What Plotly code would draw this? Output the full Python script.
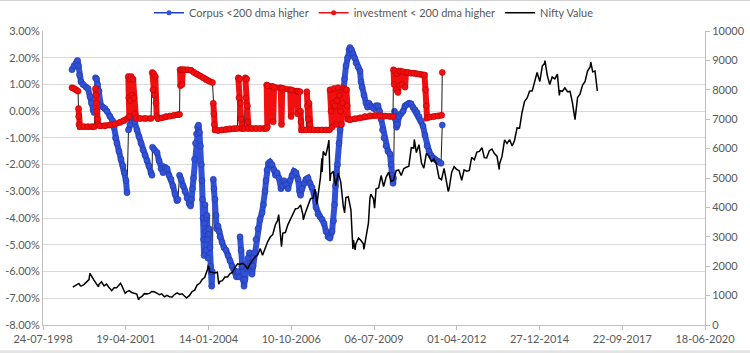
import plotly.graph_objects as go
import pandas as pd

# ---------------- data ----------------
# x values are Excel serial day numbers; None in a value list = a jump (drawn only as a thin connector)
corpus_serial = [36350, 36375, 36399, 36417, 36429, 36441, 36459, 36483, 36520, 36544, 36568, 36586, 36604, 36616,
                 36625,
                 36634, 36647, 36659, 36677, 36701, 36725, 36749, 36773, 36810, 36840, 36858, 36876, 36894, 36918,
                 36943, 36967, 36985, 37003, 37015,
                 37024,
                 37033, 37051, 37076, 37094, 37112, 37136, 37160, 37184, 37208, 37233, 37257, 37281, 37305, 37317,
                 37320,
                 37323, 37347, 37378, 37402, 37426, 37450, 37474, 37499, 37523, 37547, 37571, 37595, 37619, 37631,
                 37640,
                 37650, 37668, 37692, 37716, 37740, 37764, 37783, 37795, 37807, 37819, 37831, 37843, 37855, 37867,
                 37879, 37891, 37903, 37915, 37921, 37928, 37934, 37940, 37946, 37952, 37958, 37964, 37970, 37976,
                 37982, 37988, 37994, 38000, 38006, 38018, 38024, 38030, 38039, 38046,
                 38052,
                 38058, 38066, 38079, 38091, 38099, 38115, 38127, 38139, 38163, 38187, 38212, 38236, 38260, 38284,
                 38308, 38338, 38357, 38369,
                 38375,
                 38381, 38393, 38405, 38417, 38429, 38441, 38459, 38477, 38496, 38508,
                 38520, 38526, 38538, 38556, 38574, 38598, 38622, 38647, 38665, 38683, 38695, 38707, 38725, 38743,
                 38767, 38792, 38810, 38828, 38852, 38876, 38894, 38912, 38937, 38961, 38985, 39009, 39033, 39057,
                 39082, 39100, 39112, 39130, 39154, 39178, 39202, 39227, 39251, 39275, 39299, 39323, 39347, 39372,
                 39396, 39420, 39444, 39468, 39493, 39511, 39523, 39535, 39547, 39559, 39577, 39589, 39607, 39626,
                 39644, 39662, 39680, 39698, 39710, 39728, 39746, 39764, 39783, 39807, 39831, 39843, 39855, 39879,
                 39903, 39922, 39940, 39958, 39976, 40000, 40024, 40048, 40067, 40085, 40103, 40121, 40145, 40169,
                 40193, 40206, 40218, 40230, 40236,
                 40242,
                 40248, 40260, 40272, 40284, 40302, 40326, 40351, 40375, 40399, 40423, 40447, 40471, 40496, 40520,
                 40544, 40568, 40592, 40616, 40641, 40665, 40689, 40713, 40737, 40761, 40786, 40810,
                 40818,
                 40825]
corpus_pct = [1.55, 1.7, 1.8, 1.9, 1.7, 1.35, 1.1, 1.0, 0.9, 0.85, 0.55, 0.3, 0.05, -0.05,
              None,
              1.25, 1.2, 1.0, 0.75, 0.2, 0.15, 0.1, 0.0, -0.2, -0.35, -0.6, -1.0, -1.2, -1.5,
              -1.8, -2.05, -2.3, -2.6, -3.05,
              None,
              -0.7, -0.5, -0.35, -0.27, -0.4, -0.7, -0.95, -1.2, -1.45, -1.65, -1.85, -2.05, -2.3, -2.4,
              None,
              -1.35, -1.45, -1.55, -1.85, -2.15, -2.3, -2.1, -2.15, -2.4, -2.55, -2.8, -3.1, -3.35, -3.3,
              None,
              -2.4, -2.55, -2.8, -3.0, -3.25, -3.45, -3.55, -3.3, -2.9, -2.5, -1.8, -1.2, -0.85, -0.6,
              -0.52, -0.8, -1.3, -2.0, -2.6, -3.3, -4.0, -4.8, -5.4, -4.2, -3.5, -4.5, -5.2, -4.0,
              -3.9, -4.8, -5.5, -4.6, -4.4, -5.1, -5.8, -6.0, -6.55, -6.0,
              None,
              -2.55, -2.9, -3.3, -3.9, -4.4, -4.3, -4.5, -4.7, -4.9, -5.1, -5.2, -5.4, -5.6, -5.8,
              -5.95, -6.2, -6.0, -6.2,
              None,
              -4.7, -5.2, -5.8, -6.3, -6.55, -6.3, -5.9, -5.5, -5.3, -5.7,
              -5.8, -6.1, -5.8, -5.3, -4.8, -4.4, -4.05, -3.8, -3.5, -3.0, -2.6, -2.2, -1.95, -1.9,
              -2.0, -2.2, -2.4, -2.3, -2.5, -2.9, -2.8, -2.6, -2.75, -2.9, -2.6, -2.4, -2.25, -2.3,
              -2.55, -3.0, -3.15, -2.9, -2.7, -2.55, -2.5, -2.7, -2.85, -3.1, -3.6, -3.85, -3.95, -4.05,
              -4.2, -4.5, -4.7, -4.75, -4.5, -4.1, -3.5, -2.8, -2.3, -2.0, -1.2, -0.7, 0.0, 0.6,
              1.2, 1.7, 2.0, 2.3, 2.38, 2.3, 2.15, 2.0, 1.8, 1.65, 1.5, 1.1, 0.9, 0.6,
              0.3, 0.15, 0.3, 0.2, 0.15, 0.1, 0.2, 0.2, 0.0, -0.3, -0.7, -1.0, -1.3, -1.5,
              -1.6, -2.0, -2.4, -2.7, -2.5,
              None,
              0.0, -0.3, -0.6, -0.5, -0.2, -0.1, 0.0, 0.2, 0.25, 0.3, 0.28, 0.15, 0.05, -0.05,
              -0.2, -0.35, -0.55, -0.9, -1.3, -1.5, -1.65, -1.75, -1.8, -1.85, -1.9, -1.95,
              None,
              -0.52]

invest_serial = [36350, 36375, 36399, 36423,
                 36426,
                 36429, 36431, 36435, 36447, 36495, 36544, 36592, 36622,
                 36628,
                 36634, 36640, 36647, 36653, 36659, 36665, 36689, 36749, 36810, 36870, 36930, 36979, 37021,
                 37026,
                 37031, 37037, 37043, 37049, 37057, 37066, 37076, 37088, 37100, 37112, 37124, 37172, 37233, 37305,
                 37313,
                 37321, 37329, 37338, 37347, 37357, 37366, 37374, 37390, 37438, 37486, 37535, 37583, 37631, 37650,
                 37653,
                 37656, 37662, 37670, 37680, 37689, 37716, 37752, 37789, 37825, 37861, 37897, 37934, 37970, 38006,
                 38048,
                 38053,
                 38058, 38064, 38070, 38079, 38115, 38163, 38212, 38260, 38308, 38350,
                 38355,
                 38360, 38369, 38377, 38387, 38395, 38405, 38435,
                 38440,
                 38445, 38453, 38462, 38470, 38477, 38483, 38526, 38574, 38622, 38671, 38699,
                 38701,
                 38703, 38711, 38719, 38773, 38782, 38792, 38874, 38882, 38891, 38988, 38997, 39005, 39067, 39075,
                 39084, 39106,
                 39109,
                 39112, 39118, 39124, 39154, 39182,
                 39185,
                 39188, 39196, 39205, 39215, 39224, 39233, 39275, 39323, 39372, 39420, 39462,
                 39465,
                 39468, 39480, 39493, 39505, 39517, 39529, 39541, 39553, 39565, 39583, 39595, 39607, 39619, 39631,
                 39650, 39668, 39677, 39686, 39710, 39770, 39831, 39891, 39952, 40012, 40073, 40133, 40193, 40230,
                 40233,
                 40236, 40244, 40254, 40266, 40278, 40290, 40302, 40320, 40338, 40351, 40375, 40387, 40411, 40447,
                 40483, 40520, 40556, 40592, 40610, 40622, 40632, 40641, 40677, 40725, 40774, 40818,
                 40822,
                 40825]
invest_pct = [0.88, 0.85, 0.8, 0.75,
              None,
              0.1, -0.2, -0.5, -0.58, -0.58, -0.58, -0.58, -0.58,
              None,
              0.85, 0.6, 0.3, 0.0, -0.3, -0.5, -0.55, -0.55, -0.52, -0.48, -0.42, -0.35, -0.27,
              None,
              1.3, 0.5, -0.2, 1.2, 0.4, 1.3, 0.6, 1.2, 0.5, -0.1, -0.27, -0.27, -0.27, -0.27,
              None,
              1.45, 0.8, 1.4, 0.6, 1.3, 0.3, -0.2, -0.28, -0.25, -0.2, -0.18, -0.15, -0.13, -0.12,
              None,
              1.55, 0.95, 1.55, 1.0, 1.55, 1.55, 1.55, 1.53, 1.45, 1.38, 1.32, 1.25, 1.18, 1.12,
              1.07,
              None,
              0.3, -0.1, -0.5, -0.7, -0.72, -0.7, -0.68, -0.66, -0.65, -0.65,
              None,
              1.25, 0.5, 1.2, 0.3, -0.3, -0.65, -0.65,
              None,
              1.25, 0.5, 1.2, 0.2, -0.4, -0.65, -0.65, -0.65, -0.65, -0.65, -0.65,
              None,
              0.98, -0.6, 0.95, 0.92, -0.4, 0.9, 0.87, -0.5, 0.86, 0.8, -0.2, 0.79, 0.75, -0.1,
              0.74, 0.73,
              None,
              0.0, -0.4, -0.7, -0.7, -0.7,
              None,
              0.73, 0.2, -0.3, 0.3, -0.5, -0.7, -0.7, -0.7, -0.7, -0.7, -0.7,
              None,
              0.8, 0.0, -0.6, 0.3, 0.85, 0.2, -0.5, 0.4, 0.88, 0.6, 0.0, -0.5, 0.3, 0.85,
              0.82, 0.8, 0.2, -0.3, -0.32, -0.28, -0.25, -0.2, -0.17, -0.16, -0.17, -0.18, -0.2, -0.2,
              None,
              1.55, 1.0, 1.5, 0.8, 1.4, 0.7, 1.5, 1.5, 1.0, 1.48, 0.9, 1.45, 1.45, 1.42,
              1.42, 1.4, 1.38, 1.36, 1.35, 0.8, 0.2, -0.25, -0.22, -0.2, -0.18, -0.15,
              None,
              1.45]

nifty_dates = ['1999-07-19', '1999-07-30', '1999-08-31', '1999-09-30', '1999-10-20', '1999-10-29', '1999-11-30',
               '1999-12-31', '2000-01-31', '2000-02-11', '2000-02-29', '2000-03-31', '2000-04-28', '2000-05-24',
               '2000-05-31', '2000-06-30', '2000-07-31', '2000-08-31', '2000-09-29', '2000-10-31', '2000-11-30',
               '2000-12-29', '2001-01-31', '2001-02-15', '2001-02-28', '2001-03-30', '2001-04-12', '2001-04-30',
               '2001-05-31', '2001-06-29', '2001-07-31', '2001-08-31', '2001-09-21', '2001-09-28', '2001-10-31',
               '2001-11-30', '2001-12-31', '2002-01-31', '2002-02-28', '2002-03-28', '2002-04-30', '2002-05-31',
               '2002-06-28', '2002-07-31', '2002-08-30', '2002-09-30', '2002-10-31', '2002-11-29', '2002-12-31',
               '2003-01-31', '2003-02-28', '2003-03-31', '2003-04-25', '2003-04-30', '2003-05-30', '2003-06-30',
               '2003-07-31', '2003-08-29', '2003-09-30', '2003-10-31', '2003-11-28', '2003-12-31', '2004-01-14',
               '2004-01-30', '2004-02-27', '2004-03-31', '2004-04-30', '2004-05-17', '2004-05-31', '2004-06-30',
               '2004-07-30', '2004-08-31', '2004-09-30', '2004-10-29', '2004-11-30', '2004-12-31', '2005-01-31',
               '2005-02-28', '2005-03-31', '2005-04-29', '2005-05-31', '2005-06-30', '2005-07-29', '2005-08-31',
               '2005-09-30', '2005-10-28', '2005-11-30', '2005-12-30', '2006-01-31', '2006-02-28', '2006-03-31',
               '2006-04-28', '2006-05-11', '2006-05-31', '2006-06-14', '2006-06-30', '2006-07-31', '2006-08-31',
               '2006-09-29', '2006-10-31', '2006-11-30', '2006-12-29', '2007-01-31', '2007-02-28', '2007-03-05',
               '2007-03-30', '2007-04-30', '2007-05-31', '2007-06-29', '2007-07-24', '2007-08-16', '2007-08-31',
               '2007-09-28', '2007-10-15', '2007-10-18', '2007-10-31', '2007-11-30', '2007-12-31', '2008-01-08',
               '2008-01-22', '2008-01-31', '2008-02-29', '2008-03-31', '2008-04-30', '2008-05-30', '2008-06-30',
               '2008-07-16', '2008-07-31', '2008-08-29', '2008-09-30', '2008-10-24', '2008-10-31', '2008-11-20',
               '2008-11-28', '2008-12-31', '2009-01-30', '2009-02-27', '2009-03-06', '2009-03-31', '2009-04-30',
               '2009-05-18', '2009-05-29', '2009-06-30', '2009-07-13', '2009-07-31', '2009-08-31', '2009-09-30',
               '2009-10-30', '2009-11-30', '2009-12-31', '2010-01-29', '2010-02-26', '2010-03-31', '2010-04-30',
               '2010-05-31', '2010-06-30', '2010-07-30', '2010-08-31', '2010-09-30', '2010-10-29', '2010-11-05',
               '2010-11-30', '2010-12-31', '2011-01-31', '2011-02-28', '2011-03-31', '2011-04-29', '2011-05-31',
               '2011-06-30', '2011-07-29', '2011-08-31', '2011-09-30', '2011-10-31', '2011-11-30', '2011-12-20',
               '2011-12-30', '2012-01-31', '2012-02-29', '2012-03-30', '2012-04-30', '2012-05-31', '2012-06-29',
               '2012-07-31', '2012-08-31', '2012-09-28', '2012-10-31', '2012-11-30', '2012-12-31', '2013-01-31',
               '2013-02-28', '2013-03-28', '2013-04-30', '2013-05-31', '2013-06-28', '2013-07-31', '2013-08-28',
               '2013-08-30', '2013-09-30', '2013-10-31', '2013-11-29', '2013-12-31', '2014-01-31', '2014-02-28',
               '2014-03-31', '2014-04-30', '2014-05-30', '2014-06-30', '2014-07-31', '2014-08-29', '2014-09-30',
               '2014-10-31', '2014-11-28', '2014-12-31', '2015-01-30', '2015-02-27', '2015-03-03', '2015-03-31',
               '2015-04-30', '2015-05-29', '2015-06-30', '2015-07-31', '2015-08-24', '2015-08-31', '2015-09-30',
               '2015-10-30', '2015-11-30', '2015-12-31', '2016-01-29', '2016-02-29', '2016-03-31', '2016-04-29',
               '2016-05-31', '2016-06-30', '2016-07-29', '2016-08-31', '2016-09-07', '2016-09-30', '2016-10-28',
               '2016-11-25']
nifty_values = [1290, 1311, 1356, 1413, 1330, 1325, 1376,
                1480, 1546, 1756, 1654, 1528, 1406, 1300,
                1380, 1471, 1332, 1394, 1271, 1173, 1268,
                1264, 1372, 1420, 1352, 1148, 1080, 1126,
                1167, 1107, 1073, 1054, 854, 913, 972,
                1067, 1059, 1075, 1142, 1129, 1084, 1028,
                1057, 958, 1010, 964, 952, 1037, 1094,
                1042, 1063, 978, 920, 934, 1006, 1134,
                1185, 1356, 1417, 1555, 1615, 1880, 2014,
                1810, 1800, 1772, 1796, 1389, 1484, 1506,
                1632, 1631, 1746, 1786, 1958, 2081, 2058,
                2103, 2036, 1902, 2087, 2221, 2312, 2385,
                2601, 2371, 2652, 2837, 3001, 3074, 3403,
                3558, 3754, 3071, 2663, 3128, 3143, 3414,
                3588, 3744, 3955, 3966, 4083, 3745, 3577,
                3822, 4088, 4296, 4318, 4620, 4108, 4464,
                5021, 5670, 5208, 5901, 5763, 6139, 6288,
                4899, 5137, 5224, 4735, 5166, 4870, 4040,
                3816, 4333, 4360, 3921, 2585, 2885, 2553,
                2755, 2959, 2874, 2763, 2573, 3021, 3474,
                4323, 4449, 4291, 3974, 4636, 4662, 5084,
                4712, 5033, 5201, 4882, 4922, 5249, 5278,
                5087, 5313, 5368, 5402, 6030, 6018, 6312,
                5863, 6135, 5506, 5333, 5834, 5750, 5560,
                5647, 5482, 5001, 4943, 5327, 4832, 4544,
                4624, 5199, 5385, 5296, 5248, 4924, 5279,
                5229, 5259, 5703, 5620, 5880, 5905, 6035,
                5693, 5683, 5930, 5986, 5842, 5742, 5286,
                5471, 5735, 6299, 6176, 6304, 6090, 6277,
                6704, 6696, 7230, 7611, 7721, 7954, 7965,
                8322, 8588, 8283, 8809, 8902, 8996, 8491,
                8182, 8434, 8369, 8533, 7809, 7971, 7949,
                8066, 7935, 7946, 7564, 6987, 7738, 7850,
                8160, 8288, 8639, 8786, 8943, 8611, 8638,
                7965]

left_ticks = [-8, -7, -6, -5, -4, -3, -2, -1, 0, 1, 2, 3]
series_names = ["Corpus <200 dma higher", "investment < 200 dma higher", "Nifty Value"]

# ---------------- figure ----------------
def serial_to_date(serials):
    return pd.to_datetime(pd.Series(serials, dtype="float64"), unit="D", origin="1899-12-30")

BLUE = "#3252d6"
BLUE_EDGE = "#1f36a8"
RED = "#f01010"
TEXT = "#595959"
FONT = "Lato"

fig = go.Figure()

def add_marker_series(serials, values, color, edge):
    xs = serial_to_date(serials)
    keep = [v is not None for v in values]
    # thin dark connector through all points (shows the jumps)
    fig.add_trace(go.Scatter(
        x=[x for x, k in zip(xs, keep) if k], y=[v for v in values if v is not None],
        mode="lines", line=dict(color="#1a1a1a", width=1), showlegend=False, hoverinfo="skip"))
    # dense coloured trail of markers (broken at the jumps)
    fig.add_trace(go.Scatter(
        x=xs, y=values, mode="lines+markers", connectgaps=False,
        line=dict(color=color, width=6),
        marker=dict(size=6, color=color, line=dict(color=edge, width=0.6)),
        showlegend=False))

add_marker_series(corpus_serial, corpus_pct, BLUE, BLUE_EDGE)
add_marker_series(invest_serial, invest_pct, RED, "#c00000")

fig.add_trace(go.Scatter(
    x=pd.to_datetime(nifty_dates), y=nifty_values, yaxis="y2", mode="lines",
    line=dict(color="#000000", width=1.5), showlegend=False))

# legend entries
fig.add_trace(go.Scatter(x=[None], y=[None], mode="lines+markers", name=series_names[0],
                         line=dict(color="#2040c0", width=1.5), marker=dict(size=5, color=BLUE)))
fig.add_trace(go.Scatter(x=[None], y=[None], mode="lines+markers", name=series_names[1],
                         line=dict(color=RED, width=1.5), marker=dict(size=5, color=RED)))
fig.add_trace(go.Scatter(x=[None], y=[None], mode="lines", name=series_names[2],
                         line=dict(color="#000000", width=1.5)))

# thin frame remnants at the top and bottom edges of the picture
fig.add_shape(type="line", xref="paper", yref="paper", x0=-0.07, x1=1.07, y0=1.1035, y1=1.1035,
              line=dict(color="#d0d0d0", width=1), layer="below")
fig.add_shape(type="rect", xref="paper", yref="paper", x0=-0.07, x1=1.07, y0=-0.086, y1=-0.1,
              line=dict(width=0), fillcolor="#e4e4e4", layer="below")

fig.update_layout(
    width=750, height=353,
    margin=dict(l=43, r=45, t=31, b=28, pad=0, autoexpand=False),
    paper_bgcolor="white", plot_bgcolor="white",
    font=dict(family=FONT, size=11, color=TEXT),
    showlegend=True,
    legend=dict(orientation="h", x=0.5, xanchor="center", y=1.062, yanchor="middle",
                font=dict(family=FONT, size=11, color=TEXT), itemwidth=30,
                bgcolor="rgba(0,0,0,0)", tracegroupgap=0),
    xaxis=dict(type="date", range=["1998-07-24", "2020-06-18"], tick0="1998-07-24",
               dtick=1000 * 86400000, tickformat="%d-%m-%Y",
               showgrid=False, zeroline=False, showline=True, linecolor="#bfbfbf", linewidth=1,
               ticks="outside", ticklen=4, tickcolor="#bfbfbf",
               tickfont=dict(family=FONT, size=11, color=TEXT)),
    yaxis=dict(range=[-8, 3], tickvals=left_ticks,
               ticktext=["%.2f%%" % v for v in left_ticks],
               showgrid=True, gridcolor="#d9d9d9", gridwidth=1, zeroline=False,
               showline=True, linecolor="#bfbfbf", linewidth=1, ticks="",
               tickfont=dict(family=FONT, size=11, color=TEXT)),
    yaxis2=dict(range=[0, 10000], dtick=1000, tick0=0, overlaying="y", side="right",
                showgrid=False, zeroline=False, showline=True, linecolor="#bfbfbf", linewidth=1,
                ticks="outside", ticklen=4, tickcolor="#bfbfbf", tickformat="d",
                tickfont=dict(family=FONT, size=11, color=TEXT)),
)

fig.write_html("out.html")
